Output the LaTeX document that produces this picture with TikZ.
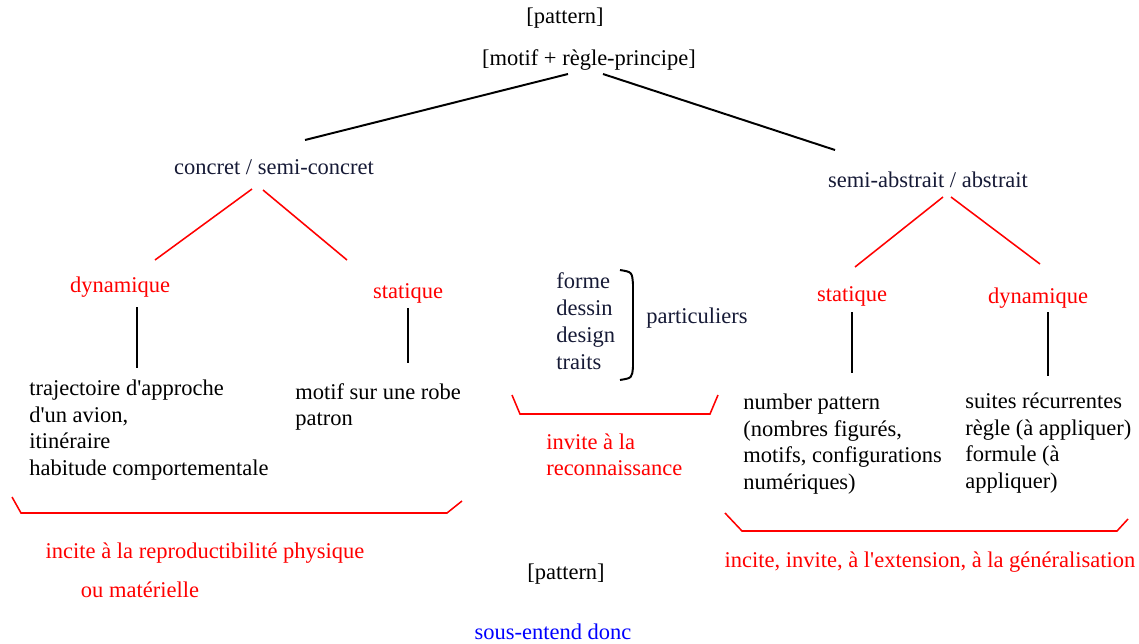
\documentclass[tikz,border=0pt]{standalone}
\usepackage{fontspec}
\setmainfont{Liberation Serif}
\usepackage{xcolor}
\usepackage{tikz}
\usetikzlibrary{calc}
\definecolor{inkblue}{RGB}{22,26,54}
\newcommand{\apos}{\textquotesingle}
\tikzset{
  lbl/.style={font=\fontsize{16}{18.8}\selectfont, inner sep=0pt},
  hd/.style={lbl, text=inkblue},
  kind/.style={lbl, text=red},
  ex/.style={lbl, align=left, anchor=west},
  note/.style={lbl, text=red, align=left},
  blk/.style={line width=1.4pt},
  redl/.style={red, line width=1.1pt},
}

\begin{document}
\begin{tikzpicture}
    \useasboundingbox (0,0) rectangle (28.475,-16.1);
    % top
    \node[lbl] (pat)  at (14.125,-0.45) {[pattern]};
    \node[lbl] (rule) at (14.725,-1.5)  {[motif + règle-principe]};
    \node[hd]  (conc) at (6.85,-4.175)  {concret / semi-concret};
    \node[hd]  (abst) at (23.2,-4.5)    {semi-abstrait / abstrait};
    \draw[blk] ($(rule)+(-0.525,-0.35)$) -- ($(conc)+(0.775,0.675)$);
    \draw[blk] ($(rule)+(0.35,-0.35)$) -- ($(abst)+(-2.325,0.75)$);
    % concret side
    \node[kind] (dynL)  at (3.0,-7.175)  {dynamique};
    \node[kind] (statL) at (10.2,-7.325) {statique};
    \draw[redl] ($(conc)+(-0.55,-0.55)$) -- ($(dynL)+(0.875,0.675)$);
    \draw[redl] ($(conc)+(-0.275,-0.575)$) -- ($(statL)+(-1.525,0.825)$);
    \node[ex] (trajet) at (0.725,-10.75) {trajectoire d\apos approche\\d\apos un avion,\\itinéraire\\habitude comportementale};
    \node[ex] (robe)   at (7.375,-10.175) {motif sur une robe\\patron};
    \coordinate (dL) at ($(dynL)+(0.425,-0.5)$);
    \coordinate (sL) at ($(statL)+(0,-0.375)$);
    \draw[blk, shorten >=0.3cm] (dL) -- (dL |- trajet.north);
    \draw[blk, shorten >=0.5cm] (sL) -- (sL |- robe.north);
    \draw[redl] (0.3,-12.425) -- (0.525,-12.825) -- (11.175,-12.825) -- (11.55,-12.525);
    \node[note] (repro)  at (5.125,-13.825) {incite à la reproductibilité physique};
    \node[note] (materi) at (3.5,-14.75)    {ou matérielle};
    % middle
    \node[ex, text=inkblue, font=\fontsize{16}{19.2}\selectfont] (formes) at (13.9,-8.025) {forme\\dessin\\design\\traits};
    \draw[blk] (15.5,-6.75) .. controls (15.8,-6.8) .. (15.825,-7.1) -- (15.825,-9.175)
      .. controls (15.8,-9.45) .. (15.5,-9.5);
    \node[hd] (partic) at (17.425,-7.95) {particuliers};
    \draw[redl] (12.8,-9.875) -- (13.0,-10.35) -- (17.75,-10.35) -- (17.95,-9.875);
    \node[note, anchor=west] (reco) at (13.65,-11.375) {invite à la\\reconnaissance};
    \node[lbl] (pat2) at (14.15,-14.35) {[pattern]};
    \node[lbl, text=blue] (sous) at (13.825,-15.8) {sous-entend donc};
    % abstrait side
    \node[kind] (statR) at (21.3,-7.4)  {statique};
    \node[kind] (dynR)  at (25.95,-7.45) {dynamique};
    \draw[redl] ($(abst)+(0.375,-0.425)$) -- ($(statR)+(0.075,0.725)$);
    \draw[redl] ($(abst)+(0.575,-0.425)$) -- ($(dynR)+(0.05,0.85)$);
    \node[ex] (nombres) at (18.575,-11.1) {number pattern\\(nombres figurés,\\motifs, configurations\\numériques)};
    \node[ex] (suites)  at (24.125,-11.075) {suites récurrentes\\règle (à appliquer)\\formule (à\\appliquer)};
    \coordinate (sR) at ($(statR)+(0,-0.4)$);
    \coordinate (dR) at ($(dynR)+(0.25,-0.35)$);
    \draw[blk, shorten >=0.525cm] (sR) -- (sR |- nombres.north);
    \draw[blk, shorten >=0.425cm] (dR) -- (dR |- suites.north);
    \draw[redl] (18.125,-12.825) -- (18.55,-13.275) -- (27.925,-13.275) -- (28.2,-12.975);
    \node[note] (gener) at (23.25,-14.05) {incite, invite, à l\apos extension, à la généralisation};
  \end{tikzpicture}
\end{document}
